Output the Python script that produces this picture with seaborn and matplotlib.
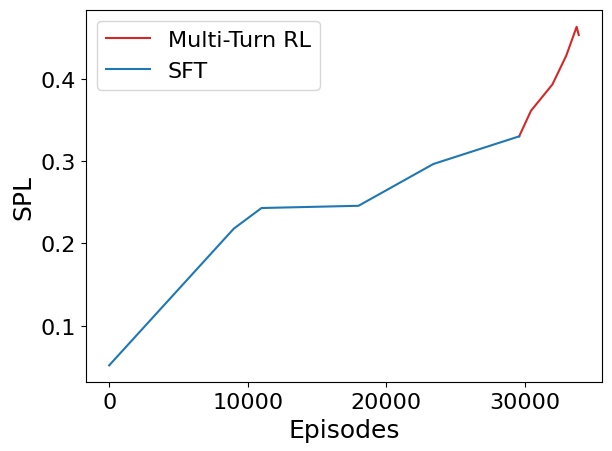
import pandas as pd
import matplotlib
matplotlib.use("Agg")
import matplotlib.pyplot as plt
from matplotlib.ticker import MultipleLocator
import seaborn as sns

# SFT curve
sft_episodes = [0, 9000, 11000, 18000, 23400, 29600]
sft_spl = [0.052, 0.218, 0.243, 0.2457, 0.2964, 0.330]

# Multi-turn RL curve (continues from the end of SFT)
rl_episodes = [29600, 30450, 32000, 33000, 33750, 33900]
rl_spl = [0.330, 0.361, 0.393, 0.428, 0.463, 0.453]

methods = ["Multi-Turn RL", "SFT"]
colors = ["#d62728", "#1f77b4"]


def main():
    df = pd.concat([
        pd.DataFrame({"Episodes": rl_episodes, "SPL": rl_spl, "method": methods[0]}),
        pd.DataFrame({"Episodes": sft_episodes, "SPL": sft_spl, "method": methods[1]}),
    ])

    fig, ax = plt.subplots(figsize=(6.12, 4.52), dpi=100)
    fig.subplots_adjust(left=0.140, right=0.984, top=0.976, bottom=0.152)
    sns.lineplot(data=df, x="Episodes", y="SPL", hue="method",
                 hue_order=methods, palette=colors, sort=False,
                 linewidth=1.5, ax=ax)

    ax.xaxis.set_major_locator(MultipleLocator(10000))
    ax.yaxis.set_major_locator(MultipleLocator(0.1))
    ax.set_xlabel("Episodes", fontsize=18)
    ax.set_ylabel("SPL", fontsize=18)
    ax.tick_params(labelsize=16)
    ax.legend(title=None, fontsize=16, loc="upper left")

    plt.savefig("out.png", dpi=100)


if __name__ == "__main__":
    main()
